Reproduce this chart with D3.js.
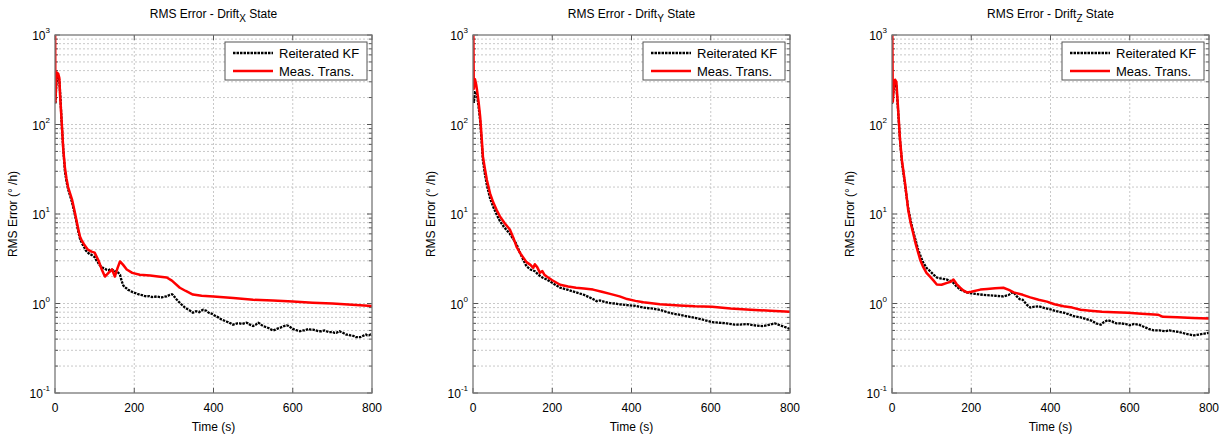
<!DOCTYPE html>
<html>
<head>
<meta charset="utf-8">
<script src="https://cdn.jsdelivr.net/npm/d3@7"></script>
<style>
  body { margin: 0; background: #fff; }
  text { font-family: "Liberation Sans", Arial, Helvetica, sans-serif; fill: #000; }
</style>
</head>
<body>
<svg width="1232" height="439"></svg>
<script>
// axis tick values
var xTicks = [0, 200, 400, 600, 800];
var yExps = [-1, 0, 1, 2, 3];
var axisNames = ["X", "Y", "Z"];
var seriesNames = ["Reiterated KF", "Meas. Trans."];

// Drift X state: [time (s), RMS error (deg/h)]
var rkfX = [[0,200],[1,170],[3,260],[5,330],[8,340],[11,310],[14,190],[17,100],[21,52],[25,30],[29,23],[33,19],[38,16],[43,13.5],[48,10.8],[53,8.6],[58,6.6],[63,5.3],[68,4.7],[73,4.3],[78,3.9],[83,3.7],[88,3.55],[92,3.5],[96,3.4],[100,3.3],[104,3.05],[108,2.9],[112,2.7],[116,2.6],[121,2.5],[126,2.45],[130,2.38],[135,2.35],[140,2.42],[144,2.4],[148,2.33],[151,2.3],[155,2.28],[158,2.25],[164,2.1],[168,1.8],[172,1.6],[176,1.52],[180,1.48],[184,1.42],[188,1.4],[193,1.36],[197,1.33],[201,1.31],[205,1.3],[210,1.27],[215,1.25],[220,1.24],[225,1.22],[232,1.2],[238,1.21],[245,1.18],[252,1.19],[258,1.2],[264,1.18],[270,1.17],[276,1.19],[282,1.2],[290,1.25],[295,1.27],[298,1.24],[302,1.18],[307,1.11],[312,1.05],[317,1.0],[322,0.95],[328,0.9],[335,0.86],[341,0.83],[348,0.79],[352,0.8],[356,0.82],[360,0.81],[364,0.8],[368,0.83],[374,0.85],[378,0.84],[382,0.83],[386,0.8],[390,0.78],[395,0.77],[400,0.75],[406,0.72],[412,0.7],[418,0.67],[425,0.65],[431,0.63],[437,0.62],[443,0.6],[449,0.58],[455,0.59],[460,0.6],[466,0.6],[472,0.59],[477,0.6],[483,0.61],[487,0.6],[492,0.58],[496,0.57],[500,0.56],[504,0.57],[507,0.58],[510,0.6],[513,0.61],[516,0.6],[520,0.58],[525,0.56],[530,0.55],[535,0.54],[540,0.53],[546,0.51],[551,0.5],[556,0.51],[560,0.52],[565,0.53],[570,0.54],[574,0.55],[578,0.56],[585,0.57],[590,0.56],[595,0.54],[600,0.52],[605,0.51],[611,0.5],[618,0.49],[624,0.5],[630,0.5],[635,0.51],[640,0.52],[645,0.51],[651,0.51],[658,0.5],[665,0.49],[672,0.49],[680,0.5],[685,0.49],[690,0.48],[695,0.48],[701,0.48],[705,0.47],[710,0.47],[714,0.48],[718,0.49],[722,0.48],[727,0.47],[731,0.46],[735,0.45],[740,0.45],[745,0.44],[750,0.44],[755,0.43],[760,0.42],[765,0.42],[770,0.42],[775,0.43],[780,0.44],[785,0.45],[788,0.44],[792,0.44],[796,0.45],[800,0.44]];
var mtX = [[0,3000],[1,180],[3,300],[5,380],[8,370],[11,330],[13,205],[17,105],[21,52],[25,33],[29,25],[33,20],[38,17],[43,14.5],[48,11.5],[53,9],[58,7],[63,5.6],[68,5.0],[73,4.6],[83,4.0],[92,3.8],[100,3.7],[110,3.0],[118,2.4],[126,2.0],[135,2.2],[144,2.4],[151,2.0],[158,2.5],[164,2.95],[172,2.7],[181,2.4],[195,2.2],[214,2.1],[240,2.05],[260,2.0],[282,1.95],[295,1.8],[315,1.5],[330,1.38],[348,1.26],[370,1.22],[400,1.2],[450,1.15],[500,1.1],[550,1.08],[600,1.05],[650,1.02],[700,1.0],[750,0.97],[800,0.94]];

// Drift Y state
var rkfY = [[0,200],[2,175],[5,230],[8,230],[10,215],[14,160],[18,110],[22,62],[25,40],[30,28],[35,21],[43,15],[51,12],[60,9.8],[68,8.3],[80,7],[93,6.0],[102,5.2],[110,4.6],[117,3.8],[125,3.2],[135,2.6],[145,2.4],[156,2.3],[165,2.1],[175,1.95],[186,1.85],[200,1.7],[220,1.5],[240,1.42],[260,1.33],[280,1.25],[303,1.12],[312,1.06],[320,1.08],[333,1.04],[346,1.01],[358,1.0],[370,0.98],[389,0.96],[410,0.94],[430,0.9],[450,0.88],[472,0.85],[490,0.8],[505,0.77],[520,0.75],[540,0.72],[560,0.69],[580,0.66],[603,0.62],[620,0.61],[640,0.6],[660,0.58],[674,0.58],[690,0.59],[710,0.57],[730,0.56],[742,0.57],[755,0.59],[762,0.6],[775,0.57],[790,0.54],[800,0.52]];
var mtY = [[0,3000],[2,250],[5,320],[8,280],[10,245],[14,180],[18,123],[22,70],[25,44],[30,32],[35,24],[43,17],[51,13.5],[60,11],[68,9.4],[80,7.9],[93,6.7],[102,5.4],[110,4.3],[120,3.6],[135,2.9],[145,2.7],[152,2.5],[156,2.75],[162,2.55],[169,2.2],[175,2.3],[180,2.1],[186,2.0],[200,1.82],[220,1.62],[240,1.55],[260,1.5],[280,1.47],[303,1.43],[325,1.35],[346,1.28],[370,1.2],[389,1.12],[410,1.07],[430,1.03],[472,0.98],[520,0.95],[560,0.93],[603,0.92],[650,0.88],[700,0.85],[750,0.83],[800,0.81]];

// Drift Z state
var rkfZ = [[0,170],[2,200],[5,260],[8,280],[11,270],[15,150],[20,68],[25,38],[33,21],[41,11.5],[47,8.5],[53,6.5],[60,5.0],[66,4.0],[72,3.4],[78,2.9],[87,2.5],[96,2.3],[105,2.1],[113,1.95],[125,1.9],[139,1.85],[148,1.78],[155,1.7],[163,1.55],[172,1.43],[180,1.38],[189,1.33],[200,1.3],[210,1.28],[223,1.26],[240,1.24],[260,1.22],[281,1.2],[295,1.25],[302,1.32],[307,1.33],[315,1.2],[322,1.12],[330,1.1],[340,0.97],[349,0.9],[360,0.92],[370,0.93],[385,0.89],[400,0.86],[415,0.82],[433,0.79],[445,0.76],[460,0.72],[476,0.7],[490,0.67],[505,0.64],[515,0.6],[527,0.58],[535,0.62],[544,0.65],[555,0.63],[566,0.6],[577,0.6],[590,0.59],[600,0.57],[611,0.59],[623,0.58],[635,0.55],[648,0.52],[661,0.5],[675,0.5],[690,0.49],[700,0.5],[711,0.49],[725,0.48],[740,0.46],[752,0.45],[762,0.44],[775,0.45],[788,0.46],[800,0.47]];
var mtZ = [[0,3000],[2,180],[5,290],[8,316],[11,300],[15,160],[20,70],[25,40],[33,22],[41,11],[47,8],[53,6.2],[60,4.6],[66,3.7],[72,3.0],[78,2.6],[87,2.2],[96,2.0],[105,1.8],[113,1.63],[125,1.62],[139,1.7],[148,1.75],[155,1.85],[163,1.65],[172,1.5],[180,1.4],[189,1.33],[200,1.35],[223,1.43],[240,1.45],[260,1.48],[281,1.5],[295,1.42],[307,1.33],[330,1.25],[349,1.17],[370,1.1],[391,1.05],[410,0.98],[433,0.93],[455,0.9],[476,0.85],[500,0.83],[530,0.81],[560,0.8],[595,0.79],[630,0.77],[671,0.75],[684,0.71],[720,0.7],[760,0.69],[800,0.68]];

var rkf = [rkfX, rkfY, rkfZ];
var mt = [mtX, mtY, mtZ];

var svg = d3.select("svg");
var lefts = [55, 473, 892],
    plotTop = 35,
    w = 317,
    h = 358;

var x = d3.scaleLinear().domain([0, 800]).range([0, w]);
var y = d3.scaleLog().domain([0.1, 1000]).range([h, 0]);

var minor = [];
yExps.slice(0, -1).forEach(function(e) {
    for (var k = 2; k <= 9; k++) minor.push(k * Math.pow(10, e));
});

var line = d3.line()
    .x(function(d) { return x(d[0]); })
    .y(function(d) { return y(d[1]); });

axisNames.forEach(function(name, i) {
    var g = svg.append("g").attr("transform", "translate(" + lefts[i] + "," + plotTop + ")");

    g.append("clipPath").attr("id", "clip" + i)
        .append("rect").attr("width", w).attr("height", h);

    // grid
    g.selectAll(".gx").data(xTicks.slice(1, -1)).enter().append("line")
        .attr("x1", x).attr("x2", x).attr("y1", 0).attr("y2", h)
        .attr("stroke", "#c8c8c8").attr("stroke-dasharray", "2,2");
    g.selectAll(".gy").data(minor.concat(yExps.slice(1, -1).map(function(e) { return Math.pow(10, e); })))
        .enter().append("line")
        .attr("x1", 0).attr("x2", w).attr("y1", y).attr("y2", y)
        .attr("stroke", "#c8c8c8").attr("stroke-dasharray", "2,2");

    // ticks
    var tk = g.append("g").attr("stroke", "#555").attr("stroke-width", 1);
    xTicks.forEach(function(t) {
        tk.append("line").attr("x1", x(t)).attr("x2", x(t)).attr("y1", h).attr("y2", h - 5);
        tk.append("line").attr("x1", x(t)).attr("x2", x(t)).attr("y1", 0).attr("y2", 5);
    });
    yExps.forEach(function(e) {
        var yy = y(Math.pow(10, e));
        tk.append("line").attr("x1", 0).attr("x2", 5).attr("y1", yy).attr("y2", yy);
        tk.append("line").attr("x1", w).attr("x2", w - 5).attr("y1", yy).attr("y2", yy);
    });
    minor.forEach(function(v) {
        tk.append("line").attr("x1", 0).attr("x2", 3).attr("y1", y(v)).attr("y2", y(v));
        tk.append("line").attr("x1", w).attr("x2", w - 3).attr("y1", y(v)).attr("y2", y(v));
    });

    // curves
    var c = g.append("g").attr("clip-path", "url(#clip" + i + ")");
    c.append("path").attr("d", line(rkf[i]))
        .attr("fill", "none").attr("stroke", "#000").attr("stroke-width", 2.3)
        .attr("stroke-dasharray", "2.5,1");
    c.append("path").attr("d", line(mt[i]))
        .attr("fill", "none").attr("stroke", "#ff0000").attr("stroke-width", 2.5)
        .attr("stroke-linejoin", "round");

    // frame
    g.append("rect").attr("width", w).attr("height", h)
        .attr("fill", "none").attr("stroke", "#777").attr("stroke-width", 1.3);

    // tick labels
    g.selectAll(".xl").data(xTicks).enter().append("text")
        .attr("x", x).attr("y", h + 19)
        .attr("text-anchor", "middle").attr("font-size", 12)
        .text(function(d) { return d; });
    yExps.forEach(function(e) {
        var t = g.append("text")
            .attr("x", -5).attr("y", y(Math.pow(10, e)) + 5)
            .attr("text-anchor", "end").attr("font-size", 12);
        t.append("tspan").text("10");
        t.append("tspan").attr("font-size", 8).attr("dy", -7).text(e);
    });

    // axis labels and title
    g.append("text").attr("x", w / 2).attr("y", h + 38)
        .attr("text-anchor", "middle").attr("font-size", 12).text("Time (s)");
    g.append("text")
        .attr("transform", "translate(-38," + (h / 2) + ") rotate(-90)")
        .attr("text-anchor", "middle").attr("font-size", 12)
        .text("RMS Error (° /h)");
    var ti = g.append("text").attr("x", w / 2).attr("y", -17)
        .attr("text-anchor", "middle").attr("font-size", 12);
    ti.append("tspan").text("RMS Error - Drift");
    ti.append("tspan").attr("font-size", 10).attr("dy", 4).text(name);
    ti.append("tspan").attr("dy", -4).text(" State");

    // legend
    var lg = g.append("g").attr("transform", "translate(" + (w - 147) + ",7)");
    lg.append("rect").attr("width", 142).attr("height", 38)
        .attr("fill", "#fff").attr("stroke", "#555").attr("stroke-width", 1);
    seriesNames.forEach(function(s, j) {
        var yy = 11 + j * 18;
        lg.append("line").attr("x1", 8).attr("x2", 48).attr("y1", yy).attr("y2", yy)
            .attr("stroke", j == 0 ? "#000" : "#ff0000")
            .attr("stroke-width", j == 0 ? 2.3 : 2.5)
            .attr("stroke-dasharray", j == 0 ? "2.5,1" : null);
        lg.append("text").attr("x", 54).attr("y", yy + 5)
            .attr("font-size", 13).text(s);
    });
});
</script>
</body>
</html>
